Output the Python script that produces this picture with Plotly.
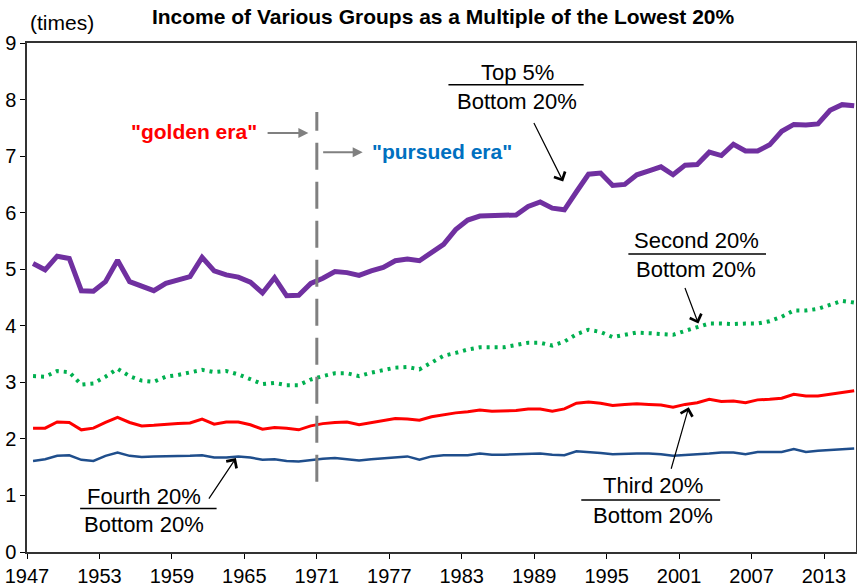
import plotly.graph_objects as go

years = list(range(1947, 2016))

top5 = [5.10, 4.99, 5.23, 5.19, 4.62, 4.61, 4.78, 5.16, 4.78, 4.70,
        4.62, 4.75, 4.80, 4.87, 5.21, 4.97, 4.90, 4.86, 4.77, 4.58,
        4.85, 4.53, 4.54, 4.75, 4.84, 4.96, 4.94, 4.89, 4.97, 5.03,
        5.15, 5.18, 5.15, 5.30, 5.44, 5.70, 5.87, 5.94, 5.95, 5.96,
        5.96, 6.11, 6.19, 6.08, 6.05, 6.37, 6.68, 6.70, 6.48, 6.50,
        6.67, 6.74, 6.81, 6.67, 6.84, 6.85, 7.07, 7.01, 7.21, 7.09,
        7.09, 7.20, 7.44, 7.56, 7.55, 7.57, 7.81, 7.91, 7.89]

second = [3.11, 3.10, 3.20, 3.18, 2.96, 2.98, 3.10, 3.24, 3.11, 3.03,
          3.01, 3.10, 3.13, 3.17, 3.22, 3.18, 3.20, 3.14, 3.06, 2.97,
          2.99, 2.95, 2.95, 3.05, 3.11, 3.16, 3.16, 3.11, 3.17, 3.21,
          3.26, 3.27, 3.23, 3.35, 3.47, 3.52, 3.58, 3.62, 3.62, 3.62,
          3.66, 3.70, 3.70, 3.65, 3.72, 3.85, 3.93, 3.89, 3.80, 3.84,
          3.88, 3.87, 3.85, 3.84, 3.91, 3.97, 4.04, 4.04, 4.03, 4.04,
          4.04, 4.08, 4.16, 4.27, 4.27, 4.30, 4.37, 4.44, 4.41]

third = [2.19, 2.19, 2.30, 2.29, 2.16, 2.19, 2.29, 2.38, 2.29, 2.23,
         2.24, 2.26, 2.27, 2.28, 2.35, 2.26, 2.30, 2.30, 2.25, 2.17,
         2.20, 2.19, 2.16, 2.23, 2.27, 2.29, 2.30, 2.25, 2.29, 2.32,
         2.36, 2.35, 2.33, 2.39, 2.43, 2.46, 2.48, 2.51, 2.49, 2.50,
         2.50, 2.53, 2.53, 2.49, 2.53, 2.63, 2.65, 2.63, 2.59, 2.61,
         2.62, 2.61, 2.60, 2.56, 2.61, 2.64, 2.70, 2.66, 2.67, 2.64,
         2.69, 2.70, 2.72, 2.79, 2.76, 2.76, 2.79, 2.82, 2.85]

fourth = [1.61, 1.64, 1.70, 1.71, 1.63, 1.61, 1.70, 1.76, 1.70, 1.68,
          1.69, 1.69, 1.69, 1.70, 1.71, 1.67, 1.67, 1.69, 1.67, 1.63,
          1.64, 1.61, 1.60, 1.63, 1.65, 1.66, 1.64, 1.62, 1.64, 1.66,
          1.67, 1.69, 1.63, 1.69, 1.71, 1.71, 1.71, 1.74, 1.72, 1.72,
          1.73, 1.73, 1.74, 1.72, 1.71, 1.78, 1.77, 1.75, 1.73, 1.74,
          1.74, 1.74, 1.73, 1.70, 1.71, 1.73, 1.74, 1.76, 1.76, 1.73,
          1.77, 1.77, 1.77, 1.82, 1.77, 1.79, 1.80, 1.82, 1.83]

tick_years = [1947, 1953, 1959, 1965, 1971, 1977, 1983, 1989, 1995, 2001, 2007, 2013]

FONT = "Liberation Sans, Arial, Helvetica, sans-serif"

fig = go.Figure()
fig.add_trace(go.Scatter(x=years, y=top5, mode="lines", line=dict(color="#7030A0", width=5)))
fig.add_trace(go.Scatter(x=years, y=second, mode="lines",
                         line=dict(color="#00B050", width=4, dash="3px,5px")))
fig.add_trace(go.Scatter(x=years, y=third, mode="lines", line=dict(color="#FF0000", width=3)))
fig.add_trace(go.Scatter(x=years, y=fourth, mode="lines", line=dict(color="#1F4E8C", width=2.5)))

# 1971 divider
fig.add_shape(type="line", x0=1970.5, x1=1970.5, y0=1.24, y1=7.78,
              line=dict(color="#808080", width=3, dash="27px,12px"))

# fraction labels: (top text, x center, y top, y rule, y bottom, rule x0, rule x1)
fractions = [
    ("Top 5%", 1987.1, 8.47, 8.26, 7.97, 1981.4, 1992.6),
    ("Second 20%", 2001.9, 5.50, 5.27, 4.99, 1996.3, 2007.7),
    ("Third 20%", 1998.3, 1.17, 0.92, 0.65, 1992.4, 2003.9),
    ("Fourth 20%", 1956.2, 0.98, 0.77, 0.48, 1950.9, 1962.2),
]
for top, xc, yt, yr, yb, x0, x1 in fractions:
    fig.add_annotation(x=xc, y=yt, text=top, showarrow=False, font=dict(size=22, color="black"))
    fig.add_annotation(x=xc, y=yb, text="Bottom 20%", showarrow=False, font=dict(size=22, color="black"))
    fig.add_shape(type="line", x0=x0, x1=x1, y0=yr, y1=yr, line=dict(color="black", width=1.5))

# pointer arrows (head position, tail offset in px)
pointers = [(1990.9, 6.55, -30, -60), (2002.1, 4.04, -14, -37),
            (2001.3, 2.56, -18, 63), (1963.8, 1.66, -28, 42)]
for hx, hy, ax, ay in pointers:
    fig.add_annotation(x=hx, y=hy, ax=ax, ay=ay, text="", showarrow=True,
                       arrowhead=4, arrowsize=2, arrowwidth=1.2, arrowcolor="black")

fig.add_annotation(x=1960.3, y=7.43, text='<b>"golden era"</b>', showarrow=False,
                   font=dict(size=21, color="#FF0000"))
fig.add_annotation(x=1969.8, y=7.41, ax=1966.3, ay=7.41, axref="x", ayref="y", text="",
                   showarrow=True, arrowhead=2, arrowsize=1, arrowwidth=2, arrowcolor="#808080")
fig.add_annotation(x=1980.9, y=7.08, text='<b>"pursued era"</b>', showarrow=False,
                   font=dict(size=21, color="#0070C0"))
fig.add_annotation(x=1974.3, y=7.07, ax=1970.9, ay=7.07, axref="x", ayref="y", text="",
                   showarrow=True, arrowhead=2, arrowsize=1, arrowwidth=2, arrowcolor="#808080")

fig.add_annotation(x=0.042, y=1.041, xref="paper", yref="paper", xanchor="center", yanchor="middle",
                   text="(times)", showarrow=False, font=dict(size=21, color="black"))

fig.update_layout(
    width=857, height=588,
    margin=dict(l=27, r=1, t=43, b=36, autoexpand=False),
    paper_bgcolor="white", plot_bgcolor="white",
    showlegend=False,
    font=dict(family=FONT, size=20, color="black"),
    title=dict(text="<b>Income of Various Groups as a Multiple of the Lowest 20%</b>",
               x=0.517, xanchor="center", y=0.971, yanchor="middle",
               font=dict(size=21, color="black")),
)
fig.update_xaxes(range=[1946.5, 2015.15], tickvals=[y - 0.5 for y in tick_years],
                 ticktext=[str(y) for y in tick_years], ticks="outside", ticklen=5,
                 tickcolor="black", showgrid=False, zeroline=False, automargin=False,
                 tickfont=dict(size=20),
                 showline=True, linecolor="#333333", linewidth=1.5, mirror=True)
fig.update_yaxes(range=[0, 9], dtick=1, ticks="outside", ticklen=5, tickcolor="black",
                 showgrid=False, zeroline=False, automargin=False, tickfont=dict(size=20),
                 showline=True, linecolor="#333333", linewidth=1.5, mirror=True)

# page body has a default 8px margin; drop it so the figure sits at the window corner
fig.write_html("out.html", config={"displayModeBar": False},
               post_script="document.body.style.margin='0';")
